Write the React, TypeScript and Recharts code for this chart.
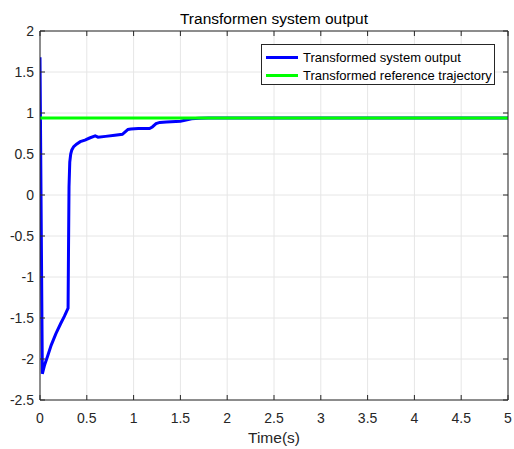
import { LineChart, Line, XAxis, YAxis, CartesianGrid, Legend } from "recharts";

// time samples (s) and the transformed output at each sample
const timeS = [
  0, 0.025, 0.05, 0.08, 0.12, 0.17, 0.22, 0.26, 0.3, 0.305, 0.31, 0.318, 0.328,
  0.34, 0.36, 0.39, 0.43, 0.48, 0.53, 0.59, 0.62, 0.7, 0.8, 0.88, 0.91, 0.94,
  0.97, 1.05, 1.17, 1.2, 1.24, 1.28, 1.35, 1.5, 1.56, 1.62, 1.7, 1.8, 2, 3, 4, 5,
];
const systemOutput = [
  1.68, -2.18, -2.07, -1.97, -1.83, -1.69, -1.57, -1.48, -1.38, -0.6, 0.1, 0.4,
  0.5, 0.55, 0.59, 0.62, 0.65, 0.67, 0.695, 0.72, 0.705, 0.715, 0.73, 0.74,
  0.77, 0.8, 0.805, 0.81, 0.81, 0.83, 0.87, 0.885, 0.89, 0.9, 0.915, 0.93,
  0.935, 0.94, 0.94, 0.94, 0.94, 0.94,
];
const refTime = [0, 5];
const refLevel = [0.94, 0.94];

const seriesNames = ["Transformed system output", "Transformed reference trajectory"];
const xTicks = [0, 0.5, 1, 1.5, 2, 2.5, 3, 3.5, 4, 4.5, 5];
const yTicks = [-2.5, -2, -1.5, -1, -0.5, 0, 0.5, 1, 1.5, 2];

const outputData = timeS.map((t, i) => ({ t, y: systemOutput[i] }));
const refData = refTime.map((t, i) => ({ t, y: refLevel[i] }));

const FONT = '"Liberation Sans", Arial, Helvetica, sans-serif';
const AXIS = "#262626";

function LegendBox(props: any) {
  const items = [...(props.payload || [])].sort(
    (a: any, b: any) => seriesNames.indexOf(a.value) - seriesNames.indexOf(b.value)
  );
  return (
    <div
      style={{
        boxSizing: "border-box",
        width: 234,
        height: 41,
        border: `1px solid ${AXIS}`,
        background: "#fff",
        paddingTop: 3,
        fontFamily: FONT,
        fontSize: 13,
        color: "#000",
      }}
    >
      {items.map((it: any) => (
        <div
          key={it.value}
          style={{ display: "flex", alignItems: "center", height: 18 }}
        >
          <span
            style={{
              display: "inline-block",
              width: 32,
              height: 3,
              marginLeft: 4,
              marginRight: 5,
              background: it.color,
            }}
          />
          <span style={{ whiteSpace: "nowrap" }}>{it.value}</span>
        </div>
      ))}
    </div>
  );
}

export default function App() {
  return (
    <div style={{ position: "absolute", left: 0, top: 0, background: "#fff" }}>
      <LineChart
        width={514}
        height={449}
        margin={{ top: 30, right: 5, bottom: 6, left: 0 }}
        style={{ fontFamily: FONT }}
      >
        <CartesianGrid xAxisId="b" yAxisId="l" stroke="#e6e6e6" />
        <XAxis
          xAxisId="b"
          type="number"
          dataKey="t"
          domain={[0, 5]}
          ticks={xTicks}
          allowDataOverflow
          height={43}
          tickSize={-5}
          tickMargin={18}
          axisLine={{ stroke: AXIS }}
          tickLine={{ stroke: AXIS }}
          tick={{ fill: AXIS, fontSize: 14 }}
          label={{
            value: "Time(s)",
            position: "insideBottom",
            offset: 0,
            fill: AXIS,
            fontSize: 15.5,
          }}
        />
        <XAxis
          xAxisId="t"
          orientation="top"
          type="number"
          dataKey="t"
          domain={[0, 5]}
          ticks={xTicks}
          allowDataOverflow
          height={1}
          tickSize={-5}
          tickFormatter={() => ""}
          axisLine={{ stroke: AXIS }}
          tickLine={{ stroke: AXIS }}
          label={{
            value: "Transformen system output",
            position: "top",
            offset: 6,
            fill: "#000",
            fontSize: 15.5,
          }}
        />
        <YAxis
          yAxisId="l"
          type="number"
          domain={[-2.5, 2]}
          ticks={yTicks}
          allowDataOverflow
          width={40}
          tickSize={-5}
          tickMargin={11}
          axisLine={{ stroke: AXIS }}
          tickLine={{ stroke: AXIS }}
          tick={{ fill: AXIS, fontSize: 14 }}
          tickFormatter={(v: number) => String(v)}
        />
        <YAxis
          yAxisId="r"
          orientation="right"
          type="number"
          domain={[-2.5, 2]}
          ticks={yTicks}
          allowDataOverflow
          width={1}
          tickSize={-5}
          tickFormatter={() => ""}
          axisLine={{ stroke: AXIS }}
          tickLine={{ stroke: AXIS }}
        />
        <Line
          xAxisId="b"
          yAxisId="l"
          data={outputData}
          dataKey="y"
          name={seriesNames[0]}
          type="linear"
          stroke="#0000ff"
          strokeWidth={3}
          dot={false}
          isAnimationActive={false}
        />
        <Line
          xAxisId="t"
          yAxisId="r"
          data={refData}
          dataKey="y"
          name={seriesNames[1]}
          type="linear"
          stroke="#00ff00"
          strokeWidth={3}
          dot={false}
          isAnimationActive={false}
        />
        <Legend
          layout="vertical"
          align="center"
          verticalAlign="middle"
          wrapperStyle={{ left: 261, top: 44, width: 234, height: 41 }}
          content={LegendBox}
        />
      </LineChart>
    </div>
  );
}
